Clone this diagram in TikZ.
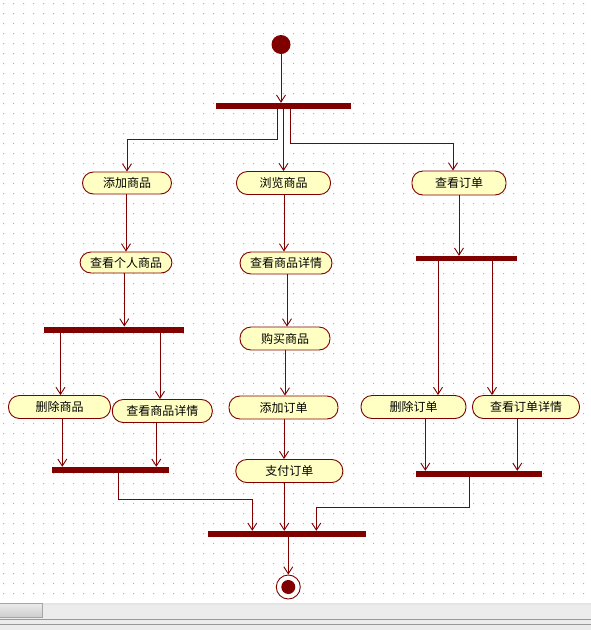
\documentclass[tikz,border=0pt]{standalone}
\usepackage{fontspec}
\newfontfamily\cjk{Noto Sans CJK SC}
\usetikzlibrary{arrows.meta}
\definecolor{umlred}{HTML}{800000}
\definecolor{actfill}{HTML}{FFFFC4}
\definecolor{gridc}{HTML}{B0B0B0}
\definecolor{panel}{HTML}{ECECEC}
\begin{document}
\begin{tikzpicture}[x=1pt,y=-1pt,
  act/.style={draw=umlred,fill=actfill,line width=0.9pt,rounded corners=11pt,
    minimum height=23pt,inner sep=0pt,font=\cjk\fontsize{12}{12}\selectfont},
  bar/.style={fill=umlred,draw=none,minimum height=6pt,inner sep=0pt},
  flow/.style={draw=umlred,line width=0.9pt,-{Straight Barb[length=7pt,width=9pt,line width=0.9pt]}},
  link/.style={draw=umlred,line width=0.9pt}]
\useasboundingbox (0,0) rectangle (591,630);
% canvas with dotted grid
\fill[white] (0,0) rectangle (591,603);
\fill[gridc] \foreach \x in {3,13,...,593} {\foreach \y in {3,13,...,600} {(\x,\y) rectangle ++(1,1)}};
% status area with scroll bar
\fill[panel] (0,603) rectangle (591,630);
\fill[white!90!black] (0,603) rectangle (591,605);
\draw[gray!70,top color=white!92!black,bottom color=white!80!black] (-1,603.5) rectangle (42,617.5);
\draw[gray!80,line width=1pt] (0,619.5) -- (591,619.5);
\draw[gray!80,line width=1pt] (0,624.5) -- (591,624.5);

% initial and final states
\node[circle,fill=umlred,minimum size=19pt,inner sep=0pt] (start) at (281,44.5) {};
\node[circle,draw=umlred,fill=white,line width=0.9pt,minimum size=24pt,inner sep=0pt] (end) at (288.3,587) {};
\fill[umlred] (end.center) circle (7);

% synchronisation bars
\node[bar,minimum width=135pt] (f1) at (283.5,106) {};
\node[bar,minimum width=140pt] (b2) at (114,329.7) {};
\node[bar,minimum width=117pt] (b3) at (110.5,470) {};
\node[bar,minimum width=101pt,minimum height=5pt] (b4) at (466.5,258.5) {};
\node[bar,minimum width=126pt] (b5) at (479,474) {};
\node[bar,minimum width=158pt] (bf) at (287,534) {};

% activities
\node[act,minimum width=89pt,minimum height=22pt] (n1) at (127,183) {添加商品};
\node[act,minimum width=94pt] (n2) at (283.5,183) {浏览商品};
\node[act,minimum width=94pt,minimum height=24pt] (n3) at (459,183) {查看订单};
\node[act,minimum width=92pt,minimum height=21pt] (n4) at (126,262.5) {查看个人商品};
\node[act,minimum width=102pt] (n5) at (59.5,407) {删除商品};
\node[act,minimum width=100pt] (n6) at (162.3,411) {查看商品详情};
\node[act,minimum width=92pt,minimum height=22pt] (n7) at (286,263) {查看商品详情};
\node[act,minimum width=90pt] (n8) at (285,338.5) {购买商品};
\node[act,minimum width=109pt] (n9) at (283.5,407.5) {添加订单};
\node[act,minimum width=107pt] (n10) at (289.3,471) {支付订单};
\node[act,minimum width=105pt] (n11) at (413.5,407) {删除订单};
\node[act,minimum width=107pt] (n12) at (526,407) {查看订单详情};

% lane positions of the connectors
\coordinate (tl) at (277.7,0);
\coordinate (tm) at (283.5,0);
\coordinate (tr) at (290,0);
\coordinate (c4) at (124.3,0);
\coordinate (l1) at (60.5,0);
\coordinate (l2) at (160,0);
\coordinate (d1) at (62.3,0);
\coordinate (d2) at (156.3,0);
\coordinate (r1) at (438,0);
\coordinate (r2) at (492,0);
\coordinate (e1) at (425.3,0);
\coordinate (e2) at (517.3,0);
\coordinate (jl) at (118.3,0);
\coordinate (jr) at (469.3,0);
\coordinate (fl) at (252.3,0);
\coordinate (fm) at (284.3,0);
\coordinate (fr) at (316.3,0);
\coordinate (m1) at (284,0);
\coordinate (m2) at (287,0);

% fork after the initial state
\draw[flow] (start.south) -- (start.south |- f1.north);
\draw[flow] (f1.south -| tl) -- ++(0,30) -| (n1.north);
\draw[flow] (f1.south -| tm) -- (n2.north -| tm);
\draw[flow] (f1.south -| tr) -- ++(0,34) -| ([xshift=-6pt]n3.north);

% left branch
\draw[flow] (n1.south -| n4) -- (n4.north);
\draw[flow] (n4.south -| c4) -- (b2.north -| c4);
\draw[flow] (b2.south -| l1) -- (n5.north -| l1);
\draw[flow] (b2.south -| l2) -- (n6.north -| l2);
\draw[flow] (n5.south -| d1) -- (b3.north -| d1);
\draw[flow] (n6.south -| d2) -- (b3.north -| d2);
\draw[flow] (b3.south -| jl) -- ++(0,26) -| (bf.north -| fl);

% middle branch
\draw[flow] (n2.south -| m1) -- (n7.north -| m1);
\draw[flow] (n7.south -| m2) -- (n8.north -| m2);
\draw[flow] (n8.south) -- (n9.north -| n8.south);
\draw[flow] (n9.south -| m1) -- (n10.north -| m1);
\draw[flow] (n10.south -| fm) -- (bf.north -| fm);

% right branch
\draw[flow] (n3.south) -- (b4.north -| n3.south);
\draw[flow] (b4.south -| r1) -- (n11.north -| r1);
\draw[flow] (b4.south -| r2) -- (n12.north -| r2);
\draw[flow] (n11.south -| e1) -- (b5.north -| e1);
\draw[flow] (n12.south -| e2) -- (b5.north -| e2);
\draw[flow] (b5.south -| jr) -- ++(0,30) -| (bf.north -| fr);

% join into the final state
\draw[flow] (bf.south -| end.north) -- (end.north);
\end{tikzpicture}
\end{document}
